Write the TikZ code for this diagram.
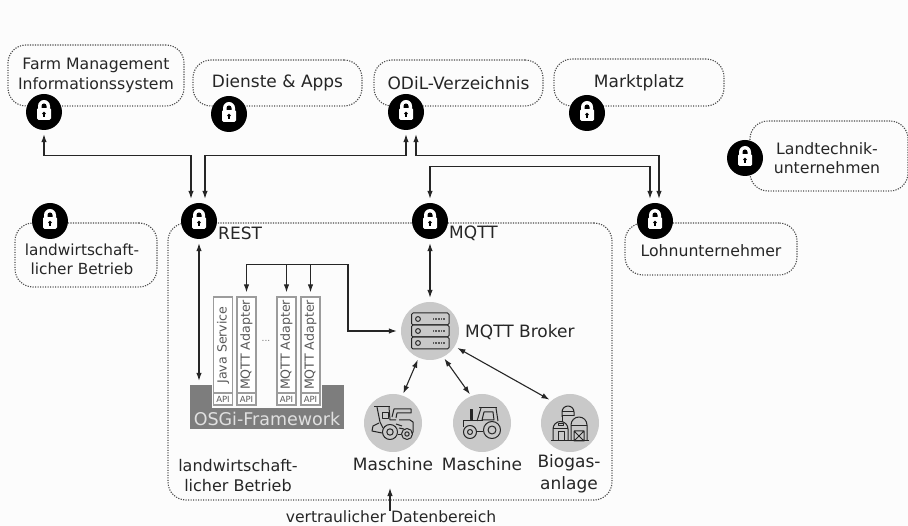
\documentclass[tikz,border=0pt]{standalone}
\usepackage{fontspec}
\usetikzlibrary{arrows.meta}
\setmainfont{DejaVu Sans}
\definecolor{MyPaper}{HTML}{FCFCFC}
\definecolor{MyInk}{HTML}{262626}
\definecolor{MyDisc}{HTML}{C9C9C9}
\definecolor{MyBase}{HTML}{7D7D7D}
\definecolor{MyFrame}{HTML}{9C9C9C}
\tikzset{
  zonebox/.style={draw=black!70,line width=1.1pt,dash pattern=on 1.2pt off 1.3pt,rounded corners=18pt,
    align=center,inner sep=0pt,text=MyInk,font=\fontsize{17}{20}\selectfont},
  smallzone/.style={zonebox,font=\fontsize{15.7}{19.6}\selectfont},
  lockmark/.style={circle,fill=black,minimum size=36pt,inner sep=0pt},
  disc/.style={circle,fill=MyDisc,minimum size=58pt,inner sep=0pt},
  plain/.style={inner sep=0pt,align=center,text=MyInk,font=\fontsize{17}{21.5}\selectfont},
  conn/.style={line width=1.1pt,draw=MyInk,>={Latex[length=8pt,width=5.5pt]}},
  gap/.style={shorten <=4pt,shorten >=4pt},
  serviceBox/.style={draw=MyFrame,fill=white,line width=1.3pt,rotate=90,minimum width=96pt,minimum height=19pt,
    inner sep=0pt,text=black!65,font=\fontsize{12.6}{12.6}\selectfont},
  apiBox/.style={draw=MyFrame,fill=white,line width=1.1pt,minimum width=19pt,minimum height=12pt,
    inner sep=0pt,text=black!65,font=\fontsize{8.5}{9}\selectfont},
  icon/.style={draw=black!85,line width=1pt,line join=round,fill=none},
  padlock/.pic={
    \fill[white,rounded corners=1.5pt] (-7,-4) rectangle (7,8);
    \fill[white] (-6,-3) -- (-6,-6) arc[start angle=180,end angle=360,radius=6] -- (6,-3) -- cycle;
    \fill[black] (-2.5,-4) -- (-2.5,-6) arc[start angle=180,end angle=360,radius=2.5] -- (2.5,-4) -- cycle;
    \fill[black] (0,1.5) circle(1.9);
    \fill[black] (-0.8,1.5) rectangle (0.8,5.5);
  },
  serverpic/.pic={
    \foreach \top in {-18,-6,6}{
      \draw[icon,rounded corners=1.5pt] (-18.5,\top) rectangle (19,\top+12);
      \draw[icon] (-12,\top+6) circle(2.4);
      \draw[black!65,line width=2.5pt,dash pattern=on 0.8pt off 0.8pt] (3,\top+6) -- (15,\top+6);
    }
  },
  harvesterpic/.pic={
    \draw[icon] (-3,9) circle(7.5) (-3,9) circle(3.2);
    \draw[icon] (14,11) circle(5.5) (14,11) circle(2.2);
    \draw[icon] (-19,-16) -- (-3,-16);
    \draw[icon] (-16,-16) -- (-13,-1) -- (-10,5);
    \draw[icon] (-11,-10) rectangle (-5,-4);
    \draw[icon] (-4,-16) -- (-3,-3) -- (3,-3);
    \draw[icon] (-1,-6) -- (1,-14) -- (18,-14) -- (18,-10) -- (4,-10) -- (3,-5);
    \draw[icon] (6,-3) -- (17,-3) -- (20,-1) -- (20,9) -- (19,11);
    \draw[icon] (5,12) -- (8,12);
    \draw[icon] (-11,10) -- (-21,8) -- (-20,3) -- (-14,0);
    \draw[icon] (3,1) -- (9,3) (6,5) -- (11,6);
  },
  tractorpic/.pic={
    \draw[icon] (10,7) circle(8.5) (10,7) circle(4);
    \draw[icon] (-12,9) circle(6.5) (-12,9) circle(2.5);
    \draw[icon] (-3,-15) -- (15,-15);
    \draw[icon] (-1,-15) -- (-5,-2);
    \draw[icon] (14,-15) -- (16,-2);
    \draw[icon] (2,-11) -- (11,-11) -- (12,-3) -- (0,-3) -- cycle;
    \draw[icon] (-19,4) -- (-19,-2) -- (1,-2);
    \draw[icon] (-5,9) -- (1,9);
    \draw[icon,fill=black!85] (-11.5,-13) rectangle (-9.5,-3);
  },
  silopic/.pic={
    \draw[icon] (-8,-6) -- (-8,-11) arc[start angle=180,end angle=360,radius=6] -- (4,-7);
    \draw[icon] (-8,-11) -- (4,-11) (-8,-7) -- (4,-7);
    \draw[icon] (-8,-7) -- (-8,-1);
    \draw[icon] (-17,18) -- (-17,6) arc[start angle=180,end angle=360,radius=7.5] -- (-2,18);
    \draw[icon] (-17,6) -- (-2,6);
    \draw[icon] (-12,1) rectangle (-7,3);
    \draw[icon] (-12,18) -- (-12,9) -- (-6,9) -- (-6,18);
    \draw[icon] (1,18) -- (1,2) arc[start angle=180,end angle=360,radius=8] -- (17,18);
    \draw[icon] (1,3) -- (17,3);
    \draw[icon] (4,8) rectangle (14,18) (4,8) -- (14,18) (14,8) -- (4,18);
    \draw[icon] (-19,18) -- (19,18);
  },
}
\begin{document}
\begin{tikzpicture}[x=1pt,y=-1pt]
  \useasboundingbox (0,0) rectangle (908,526);
  \fill[MyPaper] (0,0) rectangle (908,526);

  % zones
  \node[smallzone,minimum width=176pt,minimum height=61pt] (fmis) at (96,75.5) {Farm Management\\Informationssystem};
  \node[zonebox,minimum width=169pt,minimum height=46pt] (dienste) at (277.5,83) {Dienste \& Apps};
  \node[zonebox,minimum width=169pt,minimum height=46pt] (odil) at (458.5,83) {ODiL-Verzeichnis};
  \node[zonebox,minimum width=170pt,minimum height=47pt] (markt) at (639,82.5) {Marktplatz};
  \node[zonebox,minimum width=158pt,minimum height=70pt] (landtechnik) at (829,156) {};
  \node[zonebox,minimum width=172pt,minimum height=52pt] (lohn) at (711,249) {};
  \node[zonebox,minimum width=142pt,minimum height=64pt] (hof) at (86,255) {};
  \node[zonebox,minimum width=444pt,minimum height=277pt] (vertraulich) at (390,361.5) {};
  \node[plain,font=\fontsize{15.7}{19.6}\selectfont] (landtechnikname) at (827,158) {Landtechnik-\\unternehmen};
  \node[plain,font=\fontsize{15.7}{19.6}\selectfont] (lohnname) at (711,250.5) {Lohnunternehmer};
  \node[plain,font=\fontsize{15.3}{19.5}\selectfont] (hofname) at (82,259.5) {landwirtschaft-\\licher Betrieb};

  % locks
  \foreach \name/\pos in {lockfmis/{44,112},lockdienste/{229,114},lockodil/{406,112},lockmarkt/{587,113},
      locktechnik/{745,158},locklohn/{655,221},lockhof/{50,221},lockrest/{199,221},lockmqtt/{430,221}}{
    \node[lockmark] (\name) at (\pos) {};
    \pic at (\name) {padlock};
  }
  \node[plain,anchor=west] (rest) at (218,233) {REST};
  \node[plain,anchor=west] (mqtt) at (449,233) {MQTT};

  % framework
  \node[fill=MyBase,minimum width=154pt,minimum height=44pt,inner sep=0pt] (osgi) at (267,407) {};
  \fill[MyPaper] (212,385) rectangle (322,408);
  \node[text=black!12,inner sep=0pt,font=\fontsize{17.5}{17.5}\selectfont] (osgitext) at (267,419) {OSGi-Framework};
  \node[serviceBox] (java) at (223,345) {Java Service};
  \node[serviceBox] (adapterone) at (246.5,345) {MQTT Adapter};
  \node[serviceBox] (adaptertwo) at (286.5,345) {MQTT Adapter};
  \node[serviceBox] (adapterthree) at (310.5,345) {MQTT Adapter};
  \foreach \x/\name in {223/apijava,246.5/apione,286.5/apitwo,310.5/apithree}{
    \node[apiBox] (\name) at (\x,399) {API};
  }
  \node[inner sep=0pt,text=black!55,font=\fontsize{9}{9}\selectfont] (more) at (266,341) {...};

  % broker and devices
  \node[disc] (broker) at (430,331) {};
  \node[disc] (ernter) at (393,423) {};
  \node[disc] (traktor) at (482,423) {};
  \node[disc] (biogas) at (570,423) {};
  \pic at (broker) {serverpic};
  \pic at (ernter) {harvesterpic};
  \pic at (traktor) {tractorpic};
  \pic at (biogas) {silopic};
  \node[plain,anchor=west] (brokertext) at (465,332) {MQTT Broker};
  \node[plain] (erntertext) at (393,464) {Maschine};
  \node[plain] (traktortext) at (482,464) {Maschine};
  \node[plain] (biogastext) at (569,474) {Biogas-\\anlage};
  \node[plain,font=\fontsize{16}{19.5}\selectfont] (hoftext) at (238,475.5) {landwirtschaft-\\licher Betrieb};
  \node[plain,font=\fontsize{15.6}{15.6}\selectfont] (datentext) at (391,517) {vertraulicher Datenbereich};

  % connectors
  \draw[conn,<->,gap] (lockfmis.south) |- ([xshift=-8pt,yshift=47pt]lockrest.north) -- ([xshift=-8pt]lockrest.north);
  \draw[conn,<->,gap] (lockodil.south) |- ([xshift=6pt,yshift=47pt]lockrest.north) -- ([xshift=6pt]lockrest.north);
  \draw[conn,<->,gap] ([xshift=10pt]lockodil.south) |- ([xshift=4pt,yshift=47pt]locklohn.north) -- ([xshift=4pt]locklohn.north);
  \draw[conn,<->,gap] (lockmqtt.north) |- ([xshift=-5pt,yshift=36pt]locklohn.north) -- ([xshift=-5pt]locklohn.north);
  \draw[conn,<->,gap] (lockrest.south) -- (lockrest.south |- osgi.north);
  \draw[conn,<->,gap] (lockmqtt.south) -- (broker.north);
  \coordinate (busturn) at (348,264.5);
  \draw[conn,<->,gap] (adapterone.east) |- (busturn) |- (broker.west);
  \draw[conn,->,shorten >=4pt] (adaptertwo.east |- busturn) -- (adaptertwo.east);
  \draw[conn,->,shorten >=4pt] (adapterthree.east |- busturn) -- (adapterthree.east);
  \draw[conn,<->,shorten <=2pt,shorten >=2pt] (broker.-113) -- (ernter.71);
  \draw[conn,<->,shorten <=2pt,shorten >=2pt] (broker.-63) -- (traktor.112);
  \draw[conn,<->,shorten <=3pt,shorten >=2pt] (broker.-32) -- (biogas.130);
  \coordinate (datentip) at (390,488);
  \draw[conn,->] (datentext.north -| datentip) -- (datentip);
\end{tikzpicture}
\end{document}
